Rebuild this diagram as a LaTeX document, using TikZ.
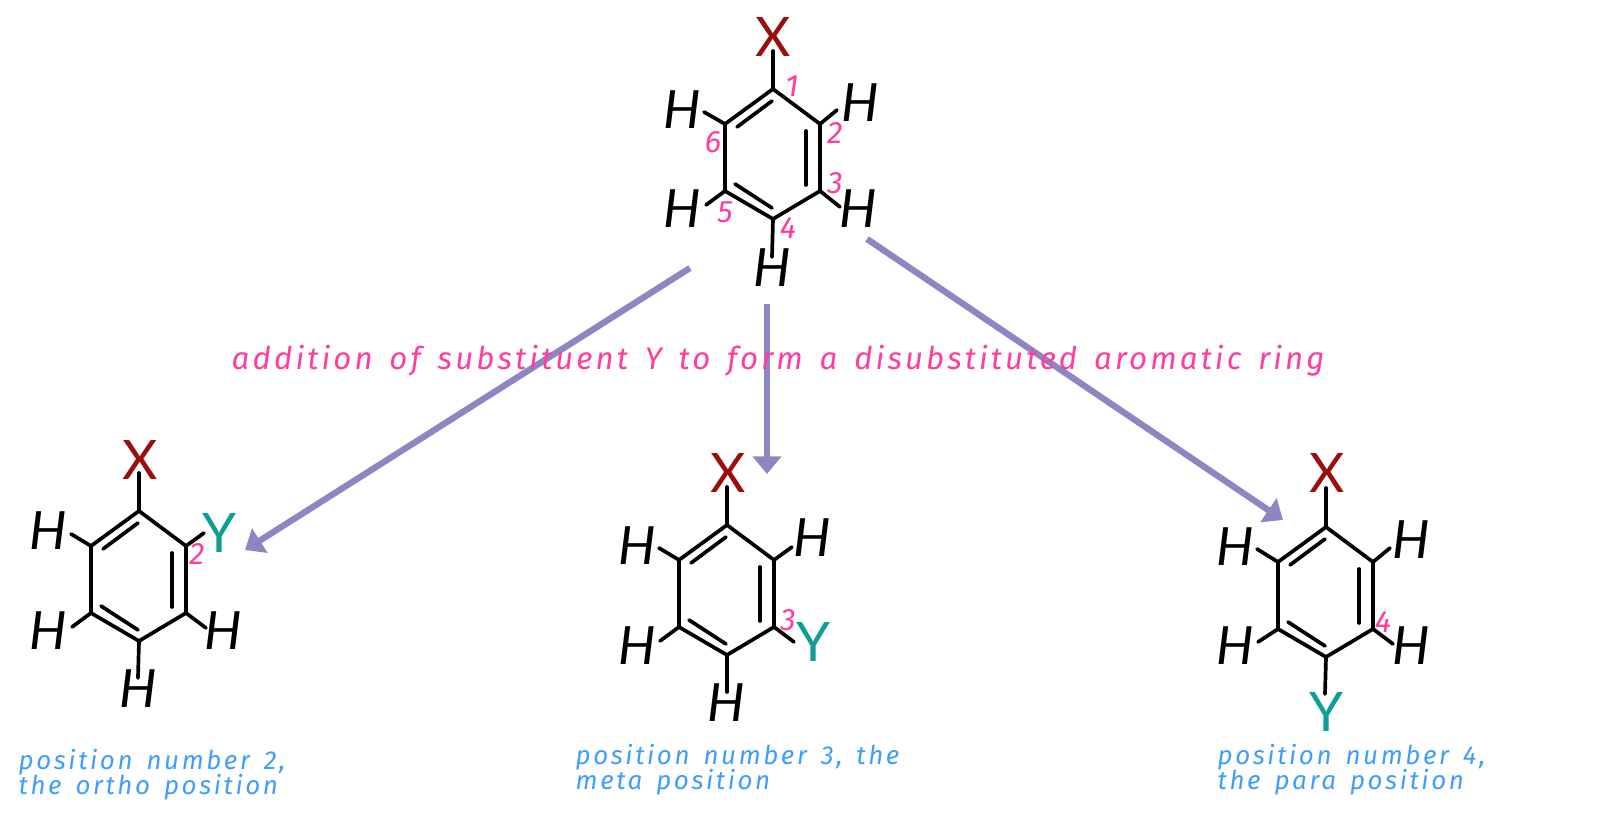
\documentclass[tikz,border=0pt]{standalone}
\usepackage{fontspec}
\setmainfont{Fira Sans}
\newfontfamily\handfont[LetterSpace=10,WordSpace=1.5]{Fira Sans}
\newfontfamily\atomfont{Lato}
\usepackage{xcolor}
\usetikzlibrary{arrows.meta}
\definecolor{bondcol}{HTML}{000000}
\definecolor{xcol}{HTML}{990F0F}
\definecolor{ycol}{HTML}{0F9E96}
\definecolor{numcol}{HTML}{FF3D9E}
\definecolor{poscol}{HTML}{3F9DFF}
\definecolor{arrowcol}{HTML}{8C86C2}
\tikzset{
  bond/.style={draw=bondcol, line width=1.05pt, line cap=round},
  react/.style={draw=arrowcol, line width=1.8pt, -{Triangle[width=8pt,length=5pt]}},
  atomh/.style={text=black, font=\atomfont\itshape\fontsize{15}{15}\selectfont, inner sep=0pt},
  atomx/.style={text=xcol, font=\atomfont\fontsize{15.5}{15.5}\selectfont, inner sep=0pt},
  atomy/.style={text=ycol, font=\atomfont\fontsize{15.5}{15.5}\selectfont, inner sep=0pt},
  num/.style={text=numcol, font=\handfont\itshape\fontsize{8.8}{8.8}\selectfont, inner sep=0pt},
  title/.style={text=numcol, font=\handfont\itshape\fontsize{8.88}{8.88}\selectfont, inner sep=0pt, anchor=west},
  postext/.style={text=poscol, font=\handfont\itshape\fontsize{7.38}{7.38}\selectfont, inner sep=0pt, anchor=west}
}
% ring with its corners named #11 .. #16, clockwise from the top
\newcommand{\benzene}[3]{
  \coordinate (#11) at (#2,#3);
  \coordinate (#12) at (#2+47,#3+35);
  \coordinate (#13) at (#2+47,#3+102);
  \coordinate (#14) at (#2,#3+130);
  \coordinate (#15) at (#2-48,#3+102);
  \coordinate (#16) at (#2-48,#3+35);
  \draw[bond] (#11)--(#12)--(#13)--(#14)--(#15)--(#16)--cycle;
  \coordinate (#1pa) at (#2-36,#3+38);
  \coordinate (#1pb) at (#2-1,#3+12);
  \coordinate (#1qa) at (#2+33,#3+42);
  \coordinate (#1qb) at (#2+33,#3+96);
  \coordinate (#1ra) at (#2-38,#3+95);
  \coordinate (#1rb) at (#2-1,#3+119);
  \draw[bond] (#1pa)--(#1pb);
  \draw[bond] (#1qa)--(#1qb);
  \draw[bond] (#1ra)--(#1rb);
}
\begin{document}
\begin{tikzpicture}[x=0.01cm,y=-0.01cm]
  \useasboundingbox (0,0) rectangle (1600,819);

  % starting ring
  \benzene{a}{773}{89}
  \node[atomx] (aX) at (773,37) {X};
  \node[atomh] (aH6) at (682,110) {H};
  \node[atomh] (aH2) at (860,103) {H};
  \node[atomh] (aH5) at (682,209) {H};
  \node[atomh] (aH3) at (858,209) {H};
  \node[atomh] (aH4) at (772,268) {H};
  \coordinate (aeX) at (773,51);
  \coordinate (ae6) at (704,112);
  \coordinate (ae2) at (837,110);
  \coordinate (ae5) at (706,205);
  \coordinate (ae3) at (840,207);
  \coordinate (ae4) at (772,257);
  \draw[bond] (a1)--(aeX);
  \draw[bond] (a6)--(ae6);
  \draw[bond] (a2)--(ae2);
  \draw[bond] (a5)--(ae5);
  \draw[bond] (a3)--(ae3);
  \draw[bond] (a4)--(ae4);
  \node[num] (an1) at (792,86) {1};
  \node[num] (an2) at (835,133) {2};
  \node[num] (an3) at (835,183) {3};
  \node[num] (an4) at (788,228) {4};
  \node[num] (an5) at (725,212) {5};
  \node[num] (an6) at (713,142) {6};

  % ortho
  \benzene{b}{139}{511}
  \node[atomx] (bX) at (140,460) {X};
  \node[atomh] (bH6) at (48,531) {H};
  \node[atomy] (bY) at (220,533) {Y};
  \node[atomh] (bH5) at (48,631) {H};
  \node[atomh] (bH3) at (223,631) {H};
  \node[atomh] (bH4) at (138,689) {H};
  \coordinate (beX) at (139,473);
  \coordinate (be6) at (71,534);
  \coordinate (be2) at (204,533);
  \coordinate (be5) at (72,627);
  \coordinate (be3) at (206,628);
  \coordinate (be4) at (138,678);
  \draw[bond] (b1)--(beX);
  \draw[bond] (b6)--(be6);
  \draw[bond] (b2)--(be2);
  \draw[bond] (b5)--(be5);
  \draw[bond] (b3)--(be3);
  \draw[bond] (b4)--(be4);
  \node[num] (bn2) at (197,554) {2};
  \node[postext] (bp1) at (18,762) {position number 2,};
  \node[postext] (bp2) at (18,787) {the ortho position};

  % meta
  \benzene{c}{727}{525}
  \node[atomx] (cX) at (728,473) {X};
  \node[atomh] (cH6) at (637,546) {H};
  \node[atomh] (cH2) at (812,538) {H};
  \node[atomh] (cH5) at (637,646) {H};
  \node[atomy] (cY) at (813,642) {Y};
  \node[atomh] (cH4) at (726,703) {H};
  \coordinate (ceX) at (727,487);
  \coordinate (ce6) at (659,548);
  \coordinate (ce2) at (792,547);
  \coordinate (ce5) at (660,641);
  \coordinate (ce3) at (794,642);
  \coordinate (ce4) at (727,692);
  \draw[bond] (c1)--(ceX);
  \draw[bond] (c6)--(ce6);
  \draw[bond] (c2)--(ce2);
  \draw[bond] (c5)--(ce5);
  \draw[bond] (c3)--(ce3);
  \draw[bond] (c4)--(ce4);
  \node[num] (cn3) at (788,620) {3};
  \node[postext] (cp1) at (575,757) {position number 3, the};
  \node[postext] (cp2) at (575,782) {meta position};

  % para
  \benzene{d}{1326}{527}
  \node[atomx] (dX) at (1327,473) {X};
  \node[atomh] (dH6) at (1235,547) {H};
  \node[atomh] (dH2) at (1411,540) {H};
  \node[atomh] (dH5) at (1235,646) {H};
  \node[atomh] (dH3) at (1411,646) {H};
  \node[atomy] (dY) at (1326,712) {Y};
  \coordinate (deX) at (1326,488);
  \coordinate (de6) at (1257,549);
  \coordinate (de2) at (1390,548);
  \coordinate (de5) at (1258,642);
  \coordinate (de3) at (1393,644);
  \coordinate (de4) at (1325,694);
  \draw[bond] (d1)--(deX);
  \draw[bond] (d6)--(de6);
  \draw[bond] (d2)--(de2);
  \draw[bond] (d5)--(de5);
  \draw[bond] (d3)--(de3);
  \draw[bond] (d4)--(de4);
  \node[num] (dn4) at (1383,622) {4};
  \node[postext] (dp1) at (1217,757) {position number 4,};
  \node[postext] (dp2) at (1217,782) {the para position};

  % reaction arrows
  \coordinate (sl) at (690,268);
  \coordinate (sm) at (767,304);
  \coordinate (sr) at (867,239);
  \coordinate (el) at (245,550);
  \coordinate (em) at (767,474);
  \coordinate (er) at (1283,520);
  \draw[react] (sl)--(el);
  \draw[react] (sm)--(em);
  \draw[react] (sr)--(er);

  \node[title] (addn) at (231,361) {addition of substituent Y to form a disubstituted aromatic ring};
\end{tikzpicture}
\end{document}
